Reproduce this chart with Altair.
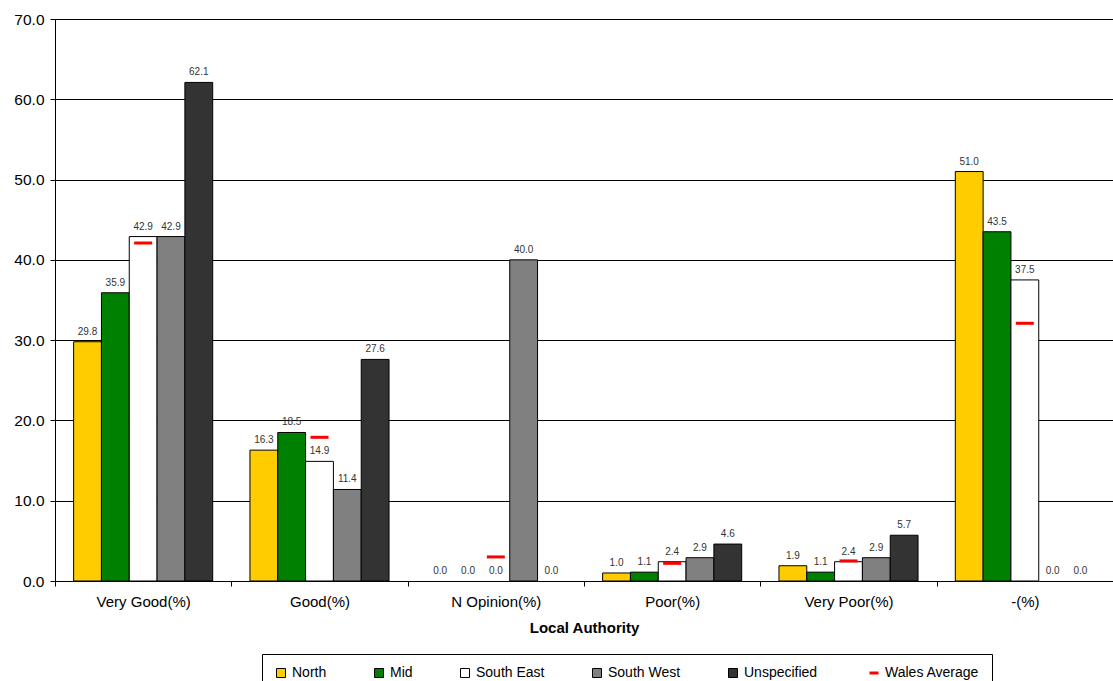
import altair as alt
import pandas as pd

categories = ["Very Good(%)", "Good(%)", "N Opinion(%)", "Poor(%)", "Very Poor(%)", "-(%)"]
series_names = ["North", "Mid", "South East", "South West", "Unspecified"]
north = [29.8, 16.3, 0.0, 1.0, 1.9, 51.0]
mid = [35.9, 18.5, 0.0, 1.1, 1.1, 43.5]
south_east = [42.9, 14.9, 0.0, 2.4, 2.4, 37.5]
south_west = [42.9, 11.4, 40.0, 2.9, 2.9, 0.0]
unspecified = [62.1, 27.6, 0.0, 4.6, 5.7, 0.0]
wales_average = [42.1, 17.9, 3.0, 2.2, 2.5, 32.1]
colors = ["#FFCC00", "#008000", "#FFFFFF", "#808080", "#333333", "#FF0000"]

rows = []
for name, vals in zip(series_names, [north, mid, south_east, south_west, unspecified]):
    for c, v in zip(categories, vals):
        rows.append({"cat": c, "series": name, "value": v})
bars_df = pd.DataFrame(rows)
avg_df = pd.DataFrame({"cat": categories, "series": "Wales Average", "value": wales_average})

domain = series_names + ["Wales Average"]
FONT = "Liberation Sans"

x_enc = alt.X(
    "cat:N",
    sort=categories,
    title="Local Authority",
    scale=alt.Scale(paddingInner=0, paddingOuter=0),
    axis=alt.Axis(
        labelAngle=0, labelFontSize=15, labelColor="black", labelFont=FONT,
        titleFontSize=15, titleFont=FONT, titleFontWeight="bold", titleColor="black",
        titlePadding=11, labelPadding=8, tickSize=5, tickColor="black",
        domainColor="black", tickBand="extent", grid=False,
    ),
)
y_enc = alt.Y(
    "value:Q",
    title=None,
    scale=alt.Scale(domain=[0, 70], nice=False),
    axis=alt.Axis(
        values=[0, 10, 20, 30, 40, 50, 60, 70], format=".1f", labelFontSize=15.5,
        labelColor="black", labelFont=FONT, tickSize=5, tickColor="black",
        domainColor="black", gridColor="black", gridOpacity=1, labelPadding=6,
    ),
)
color_enc = alt.Color(
    "series:N",
    scale=alt.Scale(domain=domain, range=colors),
    title=None,
    legend=alt.Legend(
        orient="none", legendX=207, legendY=635, direction="horizontal", columns=6,
        columnPadding=45, strokeColor="black", padding=12, labelFontSize=14,
        labelFont=FONT, labelColor="black", symbolSize=81, labelOffset=4,
        symbolType=alt.ExprRef(expr="datum.value === 'Wales Average' ? 'stroke' : 'square'"),
        symbolStrokeColor=alt.ExprRef(expr="datum.value === 'Wales Average' ? '#FF0000' : 'black'"),
        symbolStrokeWidth=alt.ExprRef(expr="datum.value === 'Wales Average' ? 3 : 1"),
        symbolOpacity=1,
    ),
)
offset_enc = alt.XOffset("series:N", sort=series_names,
                         scale=alt.Scale(domain=series_names, paddingInner=0, paddingOuter=0.67))

bars = alt.Chart(bars_df).transform_filter("datum.value > 0").mark_bar(
    stroke="black", strokeWidth=1, opacity=1
).encode(
    x=x_enc, y=y_enc, color=color_enc, xOffset=offset_enc,
)
labels = alt.Chart(bars_df).mark_text(
    dy=-5, baseline="bottom", fontSize=10, font=FONT, color="#333333"
).encode(
    x=alt.X("cat:N", sort=categories), y="value:Q", xOffset=offset_enc,
    text=alt.Text("value:Q", format=".1f"),
)
avg = alt.Chart(avg_df).mark_tick(thickness=3, size=18, opacity=1).encode(
    x=alt.X("cat:N", sort=categories), y="value:Q", color=alt.Color("series:N"),
)

chart = alt.layer(bars, avg, labels).properties(
    width=1058, height=562,
    autosize=alt.AutoSizeParams(type="none"),
    padding={"left": 55, "top": 19, "right": 0, "bottom": 100},
).configure_view(fill="#C0C0C0", stroke=None).configure(background="white")

chart.save("out.html", embed_options={"renderer": "svg", "actions": False})
